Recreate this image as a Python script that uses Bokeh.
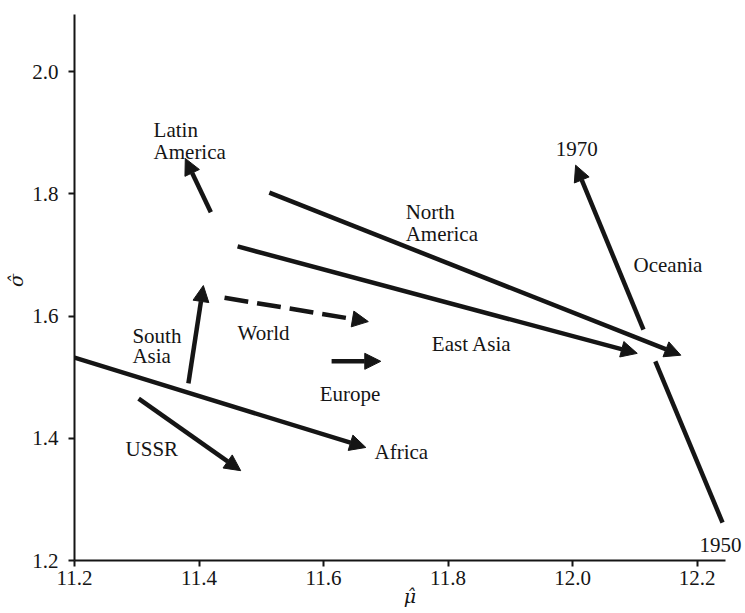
from bokeh.plotting import figure
from bokeh.models import Range1d, FixedTicker, Arrow, NormalHead, ColumnDataSource, NumeralTickFormatter
from bokeh.core.properties import value
from bokeh.embed import file_html
from bokeh.resources import INLINE

# ---- data ----
regions = ["Latin America", "North America", "East Asia", "World", "South Asia",
           "Europe", "Africa", "USSR", "Oceania"]
mu_1950 = [11.419, 11.513, 11.462, 11.441, 11.383, 11.613, 11.200, 11.303, 12.241]
sigma_1950 = [1.770, 1.802, 1.714, 1.630, 1.490, 1.526, 1.532, 1.465, 1.262]
mu_1970 = [11.378, 12.174, 12.104, 11.672, 11.407, 11.692, 11.668, 11.467, 12.005]
sigma_1970 = [1.858, 1.536, 1.539, 1.591, 1.650, 1.526, 1.385, 1.347, 1.847]

# Oceania's path is broken where it crosses the North America / East Asia arrows
oceania_gap_mu = [12.133, 12.114]
oceania_gap_sigma = [1.526, 1.578]

label_text = ["Latin", "America", "North", "America", "East Asia", "World", "South", "Asia",
              "Europe", "Africa", "USSR", "Oceania", "1970", "1950"]
label_mu = [11.327, 11.327, 11.732, 11.732, 11.774, 11.462, 11.293, 11.293,
            11.594, 11.682, 11.282, 12.098, 11.973, 12.204]
label_sigma = [1.904, 1.869, 1.770, 1.735, 1.555, 1.573, 1.568, 1.534,
               1.473, 1.377, 1.383, 1.683, 1.874, 1.225]

x_ticks = [11.2, 11.4, 11.6, 11.8, 12.0, 12.2]
y_ticks = [1.2, 1.4, 1.6, 1.8, 2.0]

INK = "#151515"
FONT = "Liberation Serif"
MATH_FONT = "DejaVu Serif"

p = figure(width=745, height=613,
           x_range=Range1d(11.2, 12.2779), y_range=Range1d(1.2, 2.1165),
           output_backend="svg", toolbar_location=None,
           min_border_left=74, min_border_right=0, min_border_top=0, min_border_bottom=53)
p.background_fill_color = "white"
p.border_fill_color = "white"
p.outline_line_color = None
p.grid.visible = False

p.xaxis.bounds = (11.2, 12.246)
p.yaxis.bounds = (1.2, 2.093)
p.xaxis.ticker = FixedTicker(ticks=x_ticks)
p.yaxis.ticker = FixedTicker(ticks=y_ticks)
p.xaxis.formatter = NumeralTickFormatter(format="0.0")
p.yaxis.formatter = NumeralTickFormatter(format="0.0")
for ax in (p.xaxis, p.yaxis):
    ax.axis_line_width = 2
    ax.axis_line_color = INK
    ax.major_tick_line_width = 2
    ax.major_tick_line_color = INK
    ax.major_tick_out = 6
    ax.major_tick_in = 0
    ax.minor_tick_line_color = None
    ax.major_label_text_font = FONT
    ax.major_label_text_font_size = "21px"
    ax.major_label_text_color = INK
    ax.axis_label_text_font = MATH_FONT
    ax.axis_label_text_font_style = "italic"
    ax.axis_label_text_font_size = "19px"
    ax.axis_label_text_color = INK
p.xaxis.major_label_standoff = 4
p.yaxis.major_label_standoff = 10

p.yaxis.axis_label = "σ̂"
p.yaxis.axis_label_standoff = 2
p.xaxis.axis_label = "μ̂"
p.xaxis.axis_label_standoff = -3

# ---- arrows ----
def head():
    return NormalHead(size=16, fill_color=INK, line_color=INK, line_width=1)

solid = [r for r in regions if r != "World"]
x0, y0, x1, y1 = [], [], [], []
for r in solid:
    i = regions.index(r)
    if r == "Oceania":
        x0.append(oceania_gap_mu[1]); y0.append(oceania_gap_sigma[1])
    else:
        x0.append(mu_1950[i]); y0.append(sigma_1950[i])
    x1.append(mu_1970[i]); y1.append(sigma_1970[i])
src = ColumnDataSource(dict(x0=x0, y0=y0, x1=x1, y1=y1))
p.add_layout(Arrow(end=head(), x_start="x0", y_start="y0", x_end="x1", y_end="y1",
                   source=src, line_width=4.5, line_color=INK))

w = regions.index("World")
wsrc = ColumnDataSource(dict(x0=[mu_1950[w]], y0=[sigma_1950[w]], x1=[mu_1970[w]], y1=[sigma_1970[w]]))
p.add_layout(Arrow(end=head(), x_start="x0", y_start="y0", x_end="x1", y_end="y1",
                   source=wsrc, line_width=4.5, line_color=INK, line_dash="24 9"))

o = regions.index("Oceania")
p.segment(x0=[mu_1950[o]], y0=[sigma_1950[o]], x1=[oceania_gap_mu[0]], y1=[oceania_gap_sigma[0]],
          line_width=4.5, line_color=INK)

# ---- labels ----
lsrc = ColumnDataSource(dict(x=label_mu, y=label_sigma, t=label_text))
p.text(x="x", y="y", text="t", source=lsrc, text_font=value(FONT), text_font_size="21px",
       text_align="left", text_baseline="alphabetic", text_color=INK)

open("out.html", "w").write(file_html(p, INLINE))
